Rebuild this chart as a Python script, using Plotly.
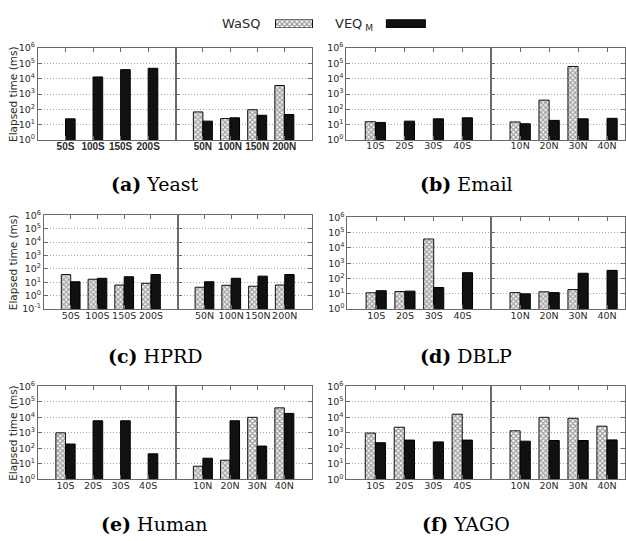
import plotly.graph_objects as go

W, H = 626, 541

# ---- data (elapsed time in ms, None = query not answered) ----
yeast_s_labels = ["50S", "100S", "150S", "200S"]
yeast_n_labels = ["50N", "100N", "150N", "200N"]
hprd_s_labels = ["50S", "100S", "150S", "200S"]
hprd_n_labels = ["50N", "100N", "150N", "200N"]
s_labels = ["10S", "20S", "30S", "40S"]
n_labels = ["10N", "20N", "30N", "40N"]

yeast_s_wasq = [None, None, None, None]
yeast_s_veq = [24, 13000, 39000, 48000]
yeast_n_wasq = [68, 25, 95, 3600]
yeast_n_veq = [17, 28, 41, 46]

email_s_wasq = [15.6, None, None, None]
email_s_veq = [14, 17, 24, 28]
email_n_wasq = [15, 400, 63000, None]
email_n_veq = [11.5, 19, 24, 26]

hprd_s_wasq = [38, 17, 6.3, 8.5]
hprd_s_veq = [11, 20, 26, 38]
hprd_n_wasq = [4.3, 6, 5.1, 6.3]
hprd_n_veq = [11, 20, 29, 38]

dblp_s_wasq = [11.7, 14, 38000, None]
dblp_s_veq = [16, 15, 26, 240]
dblp_n_wasq = [12, 13.5, 19, None]
dblp_n_veq = [10, 12, 220, 340]

human_s_wasq = [1000, None, None, None]
human_s_veq = [190, 6000, 6000, 44]
human_n_wasq = [7, 17, 10000, 41000]
human_n_veq = [23, 6000, 140, 18000]

yago_s_wasq = [970, 2300, None, 16000]
yago_s_veq = [230, 340, 260, 340]
yago_n_wasq = [1350, 10000, 8700, 2700]
yago_n_veq = [290, 320, 320, 350]

captions = ["(a)", "(b)", "(c)", "(d)", "(e)", "(f)"]
datasets = ["Yeast", "Email", "HPRD", "DBLP", "Human", "YAGO"]

# ---- layout geometry (pixels): left, divider, right, top, bottom, lowest decade ----
panels = [
    dict(geo=(38, 176, 312, 42, 136, 0), s=(yeast_s_labels, yeast_s_wasq, yeast_s_veq),
         n=(yeast_n_labels, yeast_n_wasq, yeast_n_veq), ytitle=True, bold=True),
    dict(geo=(347, 492, 637, 42, 136, 0), s=(s_labels, email_s_wasq, email_s_veq),
         n=(n_labels, email_n_wasq, email_n_veq), ytitle=False, bold=False),
    dict(geo=(44, 178, 312, 213, 309, -1), s=(hprd_s_labels, hprd_s_wasq, hprd_s_veq),
         n=(hprd_n_labels, hprd_n_wasq, hprd_n_veq), ytitle=True, bold=False),
    dict(geo=(348, 492, 637, 215, 309, 0), s=(s_labels, dblp_s_wasq, dblp_s_veq),
         n=(n_labels, dblp_n_wasq, dblp_n_veq), ytitle=False, bold=False),
    dict(geo=(38, 176, 312, 388, 483, 0), s=(s_labels, human_s_wasq, human_s_veq),
         n=(n_labels, human_n_wasq, human_n_veq), ytitle=True, bold=False),
    dict(geo=(347, 492, 637, 388, 483, 0), s=(s_labels, yago_s_wasq, yago_s_veq),
         n=(n_labels, yago_n_wasq, yago_n_veq), ytitle=False, bold=False),
]
caption_pos = [(155, 181), (467, 181), (156, 357), (467, 357), (155, 529), (467, 529)]

FONT = "DejaVu Sans"
LINE = "#6a6a6a"
TXT = "#2a2a2a"
BAR_W = 0.35
POS = [1, 2, 3, 4]

hatch = dict(color="white", line=dict(color="#111", width=1),
             pattern=dict(shape="x", fgcolor="#3c3c3c", bgcolor="white", size=3.5, solidity=0.6))
solid = dict(color="#111111", line=dict(color="#000", width=1))

fig = go.Figure()
layout = {}
annotations = []
ax = 0


def px_x(v):
    return v / W


def px_y(v):
    return 1 - v / H


for p in panels:
    left, div, right, top, bot, ymin = p["geo"]
    ydom = [px_y(bot), px_y(top)]
    decades = list(range(ymin, 7))
    for half in ("s", "n"):
        ax += 1
        labels, wasq, veq = p[half]
        if half == "s":
            xdom = [px_x(left), px_x(div)]
            xrange = [0, 5]
        else:
            vis_right = min(right, W)
            xdom = [px_x(div), px_x(vis_right)]
            xrange = [0, 5 * (vis_right - div) / (right - div)]
        xa = "x" if ax == 1 else f"x{ax}"
        ya = "y" if ax == 1 else f"y{ax}"
        fig.add_trace(go.Bar(x=POS, y=wasq, width=BAR_W, offset=-BAR_W, marker=hatch,
                             xaxis=xa, yaxis=ya, showlegend=False, name="WaSQ"))
        fig.add_trace(go.Bar(x=POS, y=veq, width=BAR_W, offset=0, marker=solid,
                             xaxis=xa, yaxis=ya, showlegend=False, name="VEQM"))
        key = "" if ax == 1 else str(ax)
        if p["bold"]:
            tick_font = dict(family="Liberation Sans", size=10, color=TXT, weight="bold")
        else:
            tick_font = dict(family=FONT, size=9.5, color=TXT)
        layout["xaxis" + key] = dict(
            domain=xdom, range=xrange, anchor=ya, tickvals=POS, ticktext=labels,
            tickangle=0, ticks="inside", ticklen=4, tickcolor=LINE, showline=True,
            linecolor=LINE, linewidth=1, mirror="ticks", showgrid=False, zeroline=False,
            tickfont=tick_font, ticklabelstandoff=-3, fixedrange=True)
        layout["yaxis" + key] = dict(
            domain=ydom, type="log", range=[ymin, 6], anchor=xa,
            tickvals=[10 ** d for d in decades],
            ticktext=[f"10<sup>{d}</sup>" for d in decades],
            showticklabels=(half == "s"), ticks="inside", ticklen=4, tickcolor=LINE,
            showline=True, linecolor=LINE, linewidth=1,
            mirror=True if half == "s" else "ticks",
            showgrid=True, gridcolor="#a8a8a8", griddash="1px,2px", gridwidth=1,
            zeroline=False, tickfont=dict(family=FONT, size=9.5, color=TXT),
            fixedrange=True)
    if p["ytitle"]:
        annotations.append(dict(
            x=px_x(13), y=px_y((top + bot) / 2), xref="paper", yref="paper",
            xanchor="center", yanchor="middle",
            text="Elapsed time (ms)", textangle=-90, showarrow=False,
            font=dict(family=FONT, size=10.5, color=TXT)))

for (cx, cy), tag, name in zip(caption_pos, captions, datasets):
    annotations.append(dict(
        x=px_x(cx), y=px_y(cy), xref="paper", yref="paper",
        xanchor="center", yanchor="middle",
        text=f"<b>{tag}</b> {name}", showarrow=False,
        font=dict(family="DejaVu Serif", size=19, color="#000")))

# ---- legend: labels and swatches along the top ----
annotations.append(dict(x=px_x(262), y=px_y(17), xref="paper", yref="paper",
                        xanchor="right", yanchor="middle", text="WaSQ", showarrow=False,
                        font=dict(family=FONT, size=13, color=TXT)))
annotations.append(dict(x=px_x(334), y=px_y(18), xref="paper", yref="paper",
                        xanchor="left", yanchor="middle", text="VEQ<sub> M</sub>",
                        showarrow=False, font=dict(family=FONT, size=13, color=TXT)))

ax += 1
lx, ly = f"x{ax}", f"y{ax}"
fig.add_trace(go.Bar(y=[0], x=[37], base=[276], orientation="h", width=1, marker=hatch,
                     xaxis=lx, yaxis=ly, showlegend=False, hoverinfo="skip"))
fig.add_trace(go.Bar(y=[0], x=[39], base=[387], orientation="h", width=1, marker=solid,
                     xaxis=lx, yaxis=ly, showlegend=False, hoverinfo="skip"))
layout[f"xaxis{ax}"] = dict(domain=[0, 1], range=[0, W], visible=False, anchor=ly, fixedrange=True)
layout[f"yaxis{ax}"] = dict(domain=[px_y(21.5), px_y(12.5)], range=[-0.5, 0.5],
                            visible=False, anchor=lx, fixedrange=True)

fig.update_layout(
    width=W, height=H, margin=dict(l=0, r=0, t=0, b=0),
    paper_bgcolor="white", plot_bgcolor="white", barmode="overlay",
    annotations=annotations, **layout)

fig.write_html("out.html")
